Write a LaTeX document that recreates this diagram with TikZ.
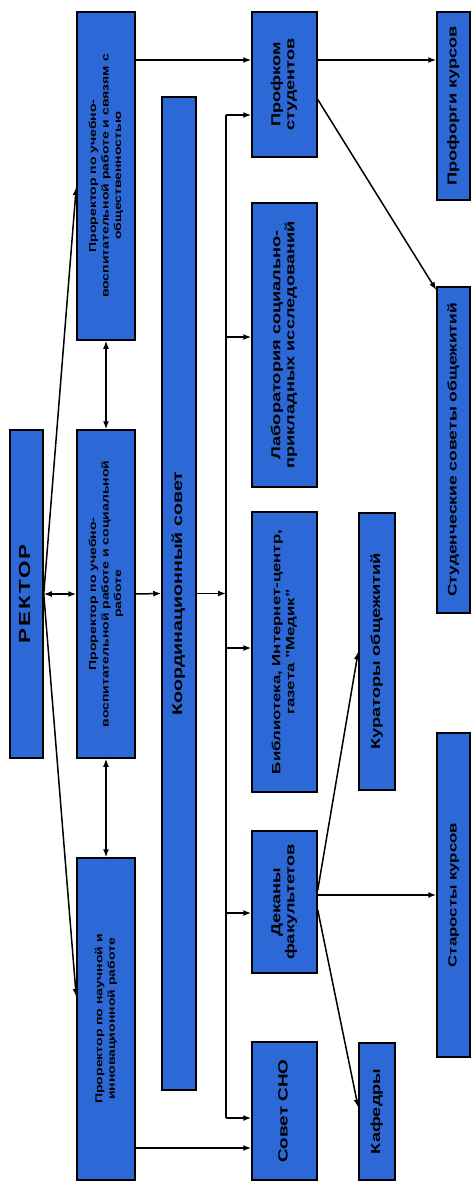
\documentclass[tikz,border=0pt]{standalone}
\usepackage{fontspec}
\setmainfont{Liberation Sans}[FakeStretch=1.4]
\usetikzlibrary{arrows.meta}
\definecolor{boxblue}{RGB}{44,104,214}
\newcommand{\vtxt}[3]{\rotatebox{90}{\fontsize{#1}{#2}\selectfont\bfseries\begin{tabular}{@{}c@{}}#3\end{tabular}}}
\tikzset{
  box/.style={draw=black, line width=1.5pt, fill=boxblue, inner sep=0pt},
  arr/.style={-{Latex[length=8pt,width=6pt]}, line width=1.5pt},
  arrboth/.style={{Latex[length=8pt,width=6pt]}-{Latex[length=8pt,width=6pt]}, line width=1.5pt}
}
\begin{document}
\begin{tikzpicture}[x=1pt,y=-1pt]
\fill[white] (0,0) rectangle (471,1184);
\useasboundingbox (0,0) rectangle (471,1184);

\node[box, minimum width=33pt, minimum height=328pt] (rector) at (26.5,594) {\vtxt{16}{18}{\addfontfeature{LetterSpace=12}РЕКТОР}};
\node[box, minimum width=58pt, minimum height=328pt] (prorVos) at (106,176) {\vtxt{10}{12.5}{Проректор по учебно-\\воспитательной работе и связям с\\общественностью}};
\node[box, minimum width=58pt, minimum height=328pt] (prorSoc) at (106,594) {\vtxt{10}{12.5}{Проректор по учебно-\\воспитательной работе и социальной\\работе}};
\node[box, minimum width=58pt, minimum height=322pt] (prorNauk) at (106,1019) {\vtxt{10}{12.5}{Проректор по научной и\\инновационной работе}};
\node[box, minimum width=34pt, minimum height=993pt] (koord) at (179,593.5) {\vtxt{14}{16}{Координационный совет}};

\node[box, minimum width=65pt, minimum height=145pt] (profkom) at (284.5,84.5) {\vtxt{13}{14}{Профком\\студентов}};
\node[box, minimum width=65pt, minimum height=284pt] (lab) at (284.5,345) {\vtxt{13}{14}{Лаборатория социально-\\прикладных исследований}};
\node[box, minimum width=65pt, minimum height=280pt] (bibl) at (284.5,652) {\vtxt{12}{14}{Библиотека, Интернет-центр,\\газета "Медик"}};
\node[box, minimum width=65pt, minimum height=142pt] (dekany) at (284.5,902) {\vtxt{13}{14}{Деканы\\факультетов}};
\node[box, minimum width=65pt, minimum height=138pt] (sno) at (284.5,1111) {\vtxt{13.5}{15}{Совет СНО}};

\node[box, minimum width=36pt, minimum height=277pt] (kurat) at (377,651.5) {\vtxt{13}{15}{Кураторы общежитий}};
\node[box, minimum width=36pt, minimum height=137pt] (kafedry) at (377,1111.5) {\vtxt{13}{15}{Кафедры}};

\node[box, minimum width=33pt, minimum height=188pt] (proforgi) at (453.5,106) {\vtxt{13}{15}{Профорги курсов}};
\node[box, minimum width=33pt, minimum height=326pt] (studsov) at (453.5,450) {\vtxt{12.5}{15}{Студенческие советы общежитий}};
\node[box, minimum width=33pt, minimum height=324pt] (starosty) at (453.5,895) {\vtxt{12}{15}{Старосты курсов}};

\coordinate (rowA) at (0,60);
\coordinate (rowS) at (0,1148);
\coordinate (busTop) at (226,115);
\coordinate (busBot) at (226,1118);

\draw[arrboth] (rector.east) -- (prorSoc.west);
\draw[arr] (rector.east) -- ([yshift=-11pt]prorVos.west);
\draw[arr] (rector.east) -- ([yshift=22pt]prorNauk.west);
\draw[arrboth] (prorVos.south) -- (prorSoc.north);
\draw[arrboth] (prorSoc.south) -- (prorNauk.north);
\draw[arr] (prorSoc.east) -- (koord.west);
\draw[arr] (prorVos.east |- rowA) -- (profkom.west |- rowA);
\draw[arr] (prorNauk.east |- rowS) -- (sno.west |- rowS);
\draw[arr] (koord.east) -- (koord.east -| busTop);
\draw[line width=1.5pt] (busTop) -- (busBot);
\foreach \n/\y in {profkom/115, lab/337, bibl/648, dekany/913, sno/1118}
  \draw[arr] (busTop |- 0,\y) -- (\n.west |- 0,\y);
\draw[arr] (profkom.east |- rowA) -- (proforgi.west |- rowA);
\draw[arr] ([yshift=-15pt]profkom.east) -- ([yshift=160pt]studsov.west);
\draw[arr] ([yshift=12pt]dekany.east) -- (kurat.west);
\draw[arr] (starosty.west -| dekany.east) -- (starosty.west);
\draw[arr] ([yshift=-8pt]dekany.east) -- ([yshift=4pt]kafedry.west);
\end{tikzpicture}
\end{document}
